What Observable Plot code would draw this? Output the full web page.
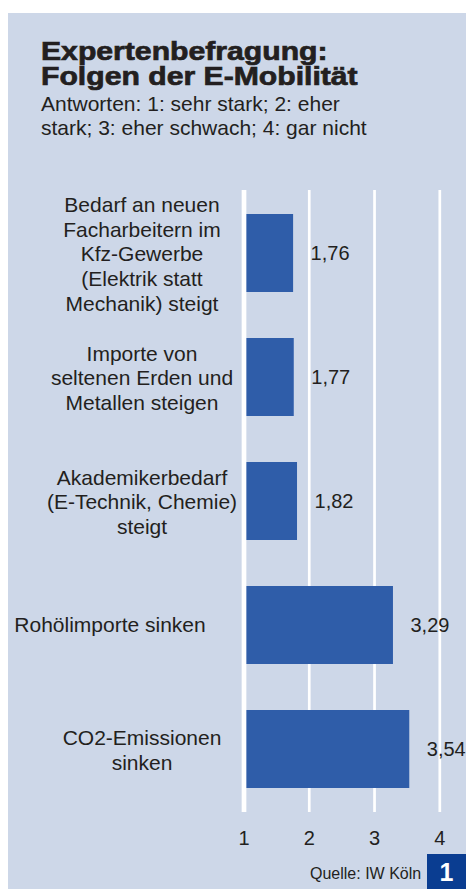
<!DOCTYPE html>
<html>
<head>
<meta charset="utf-8">
<script src="https://cdn.jsdelivr.net/npm/d3@7"></script>
<script src="https://cdn.jsdelivr.net/npm/@observablehq/plot@0.6"></script>
<style>
  html, body { margin: 0; padding: 0; background: #ffffff; }
  body { width: 466px; height: 889px; position: relative; overflow: hidden; font-family: "Liberation Sans", Arial, sans-serif; color: #231f20; }
  #panel { position: absolute; left: 8px; top: 13px; width: 458px; height: 876px; background: #cdd7e8; }
  #title { position: absolute; left: 33px; top: 25.5px; font-size: 26px; line-height: 25px; font-weight: bold; white-space: nowrap;
           -webkit-text-stroke: 0.7px #231f20; transform: scaleX(1.16); transform-origin: left center; }
  .sub { position: absolute; left: 33px; font-size: 21px; line-height: 24px; white-space: nowrap; }
  #chart { position: absolute; left: 0; top: 167px; }
  #source { position: absolute; left: 302px; top: 851px; font-size: 16px; line-height: 20px; white-space: nowrap; }
  #badge { position: absolute; left: 419px; top: 841px; width: 39px; height: 35px; background: #0a3d91; color: #fff;
           font-weight: bold; font-size: 25px; line-height: 37px; text-align: center; }
</style>
</head>
<body>
<div id="panel">
  <div id="title">Expertenbefragung:<br>Folgen der E-Mobilität</div>
  <div class="sub" style="top:79px">Antworten: 1: sehr stark; 2: eher<br>stark; 3: eher schwach; 4: gar nicht</div>
  <div id="chart"></div>
  <div id="source">Quelle: IW Köln</div>
  <div id="badge">1</div>
</div>
<script>
const categories = [
  "Bedarf an neuen\nFacharbeitern im\nKfz-Gewerbe\n(Elektrik statt\nMechanik) steigt",
  "Importe von\nseltenen Erden und\nMetallen steigen",
  "Akademikerbedarf\n(E-Technik, Chemie)\nsteigt",
  "Rohölimporte sinken",
  "CO2-Emissionen\nsinken"
];
const values = [1.76, 1.77, 1.82, 3.29, 3.54];
const tickValues = [1, 2, 3, 4];
const gridValues = [2, 3, 4];
const baseValue = [1];

const data = categories.map((c, i) => ({category: c, value: values[i]}));
const fmt = v => d3.format(".2f")(v).replace(".", ",");
const isSingleLine = d => !d.category.includes("\n");

const chart = Plot.plot({
  width: 458,
  height: 680,
  marginLeft: 235.5,
  marginRight: 26.7,
  marginTop: 10,
  marginBottom: 48,
  style: {background: "transparent", fontFamily: "'Liberation Sans', Arial, sans-serif", color: "#231f20"},
  x: {domain: [1, 4], label: null},
  y: {domain: categories, paddingInner: 0.372, paddingOuter: 0.186, axis: null},
  marks: [
    Plot.ruleX(gridValues, {stroke: "#ffffff", strokeWidth: 2.7}),
    Plot.barX(data, {x1: 1, x2: "value", y: "category", fill: "#2f5da9"}),
    Plot.ruleX(baseValue, {stroke: "#ffffff", strokeWidth: 4.7}),
    Plot.text(data, {x: "value", y: "category", text: d => fmt(d.value), textAnchor: "start", dx: 17, fontSize: 20, fill: "#231f20"}),
    Plot.text(data, {filter: d => !isSingleLine(d), y: "category", text: "category", frameAnchor: "left", dx: -102, textAnchor: "middle", fontSize: 21, lineHeight: 1.17, fill: "#231f20"}),
    Plot.text(data, {filter: isSingleLine, y: "category", text: "category", frameAnchor: "left", dx: -134, textAnchor: "middle", fontSize: 21, fill: "#231f20"}),
    Plot.axisX({ticks: tickValues, tickSize: 0, tickPadding: 18, fontSize: 20, tickFormat: d => String(d), fill: "#231f20", label: null})
  ]
});
document.getElementById("chart").appendChild(chart);
</script>
</body>
</html>
